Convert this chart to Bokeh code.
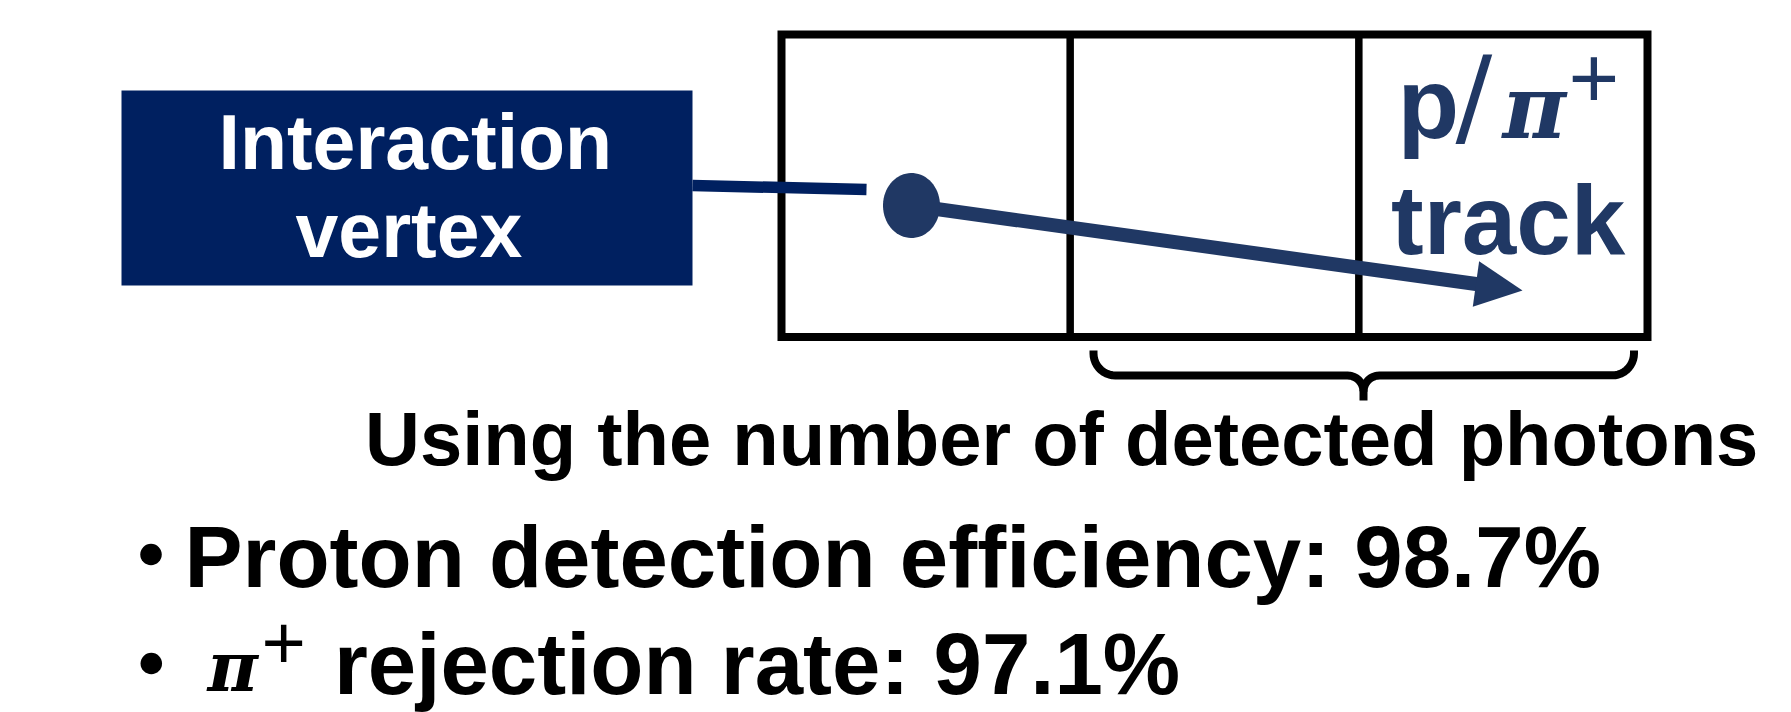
from bokeh.plotting import figure
from bokeh.models import Range1d
from bokeh.core.properties import value
from bokeh.embed import file_html
from bokeh.resources import INLINE
import numpy as np

# ---------------- content ----------------
vertex_label = ["Interaction", "vertex"]
track_particle = ["p", "/", "\u03c0", "+"]
track_word = "track"
n_cells = 3
brace_caption = "Using the number of detected photons"
metric_names = ["Proton detection efficiency", "rejection rate"]
metric_values = [98.7, 97.1]

# ---------------- styles ----------------
NAVY = "#002060"
TRACK = "#203864"
SANS = "Liberation Sans"
MATH = "DejaVu Serif"
MID = {SANS: 0.3465, MATH: 0.346, "DejaVu Sans": 0.346}

W, H = 1791, 712
p = figure(width=W, height=H, x_range=Range1d(0, W), y_range=Range1d(H, 0),
           output_backend="svg", toolbar_location=None,
           x_axis_type=None, y_axis_type=None, min_border=0)
p.outline_line_color = None
p.background_fill_color = "white"
p.border_fill_color = "white"


def txt(x, baseline, s, size, color, font=SANS, style="bold"):
    y = baseline - MID[font] * size
    p.text(x=[x], y=[y], text=[s], text_font=value(font),
           text_font_size=value(f"{size}px"), text_font_style=style,
           text_color=color, text_baseline="middle", text_align="left")


# label box
p.quad(left=[121], right=[692], top=[90], bottom=[285], fill_color=NAVY, line_color=None)
txt(218, 168, vertex_label[0], 77, "white")
txt(295, 256, vertex_label[1], 77, "white")

# track label
txt(1397, 137, track_particle[0], 101, TRACK)
txt(1455, 134, track_particle[1], 109, TRACK, font="DejaVu Sans", style="normal")
txt(1502, 137, track_particle[2], 87, TRACK, font=MATH, style="bold italic")
txt(1568, 108, track_particle[3], 87, TRACK, style="normal")
txt(1390.5, 253, track_word, 98, TRACK)

# caption and results
txt(364.5, 464, brace_caption, 76, "black")
txt(184, 586, f"{metric_names[0]}: {metric_values[0]}%", 87, "black")
txt(207, 690, "\u03c0", 69, "black", font=MATH, style="bold italic")
txt(261, 668, "+", 76, "black", style="normal")
txt(333.5, 693, f"{metric_names[1]}: {metric_values[1]}%", 87, "black")

# detector frame
fx0, fx1, fy0, fy1 = 781, 1647, 34, 336.5
p.quad(left=[fx0], right=[fx1], top=[fy0], bottom=[fy1], fill_color=None,
       line_color="black", line_width=8, line_join="miter")
edges = [fx0 + k * (fx1 - fx0) / n_cells for k in range(1, n_cells)]
p.segment(x0=edges, y0=[fy0] * len(edges), x1=edges, y1=[fy1] * len(edges),
          line_color="black", line_width=7.5)

# brace under cells 2..3
L, R, M = 1093, 1633.5, 1363
yt, yb, ytip = 350, 375, 400
r1, r2 = 22, 16
ys_v = yb - r1
bx, by = [L, L], [yt, ys_v]
for a in np.linspace(np.pi, np.pi / 2, 12)[1:]:
    bx.append(float(L + r1 + r1 * np.cos(a))); by.append(float(ys_v + r1 * np.sin(a)))
for a in np.linspace(-np.pi / 2, 0, 12):
    bx.append(float(M - r2 + r2 * np.cos(a))); by.append(float(yb + r2 + r2 * np.sin(a)))
bx.append(M); by.append(ytip)
bx2, by2 = [M], [yb + r2]
for a in np.linspace(np.pi, 3 * np.pi / 2, 12):
    bx2.append(float(M + r2 + r2 * np.cos(a))); by2.append(float(yb + r2 + r2 * np.sin(a)))
for a in np.linspace(np.pi / 2, 0, 12)[1:]:
    bx2.append(float(R - r1 + r1 * np.cos(a))); by2.append(float(ys_v + r1 * np.sin(a)))
bx2.append(R); by2.append(yt)
p.multi_line(xs=[bx, bx2], ys=[by, by2], line_color="black", line_width=8, line_join="round")

# bullets
p.scatter(x=[150.5, 150.8], y=[554, 663], size=21.5, fill_color="black", line_color=None)

# connector from label box to vertex
p.segment(x0=[692], y0=[185], x1=[866], y1=[189], line_color=NAVY, line_width=11.5)

# track arrow
sx, sy = 911, 205
tx, ty = 1522, 290
d = np.array([tx - sx, ty - sy], dtype=float)
d /= np.hypot(*d)
nrm = np.array([-d[1], d[0]])
hl, hw = 47, 46
base = np.array([tx, ty]) - hl * d
p.segment(x0=[sx], y0=[sy], x1=[float(base[0] + 2 * d[0])], y1=[float(base[1] + 2 * d[1])],
          line_color=TRACK, line_width=14)
c1 = base + hw / 2 * nrm
c2 = base - hw / 2 * nrm
th = np.linspace(0, 2 * np.pi, 72)
p.patches(xs=[[float(v) for v in sx + 28.5 * np.cos(th)],
              [tx, float(c1[0]), float(c2[0])]],
          ys=[[float(v) for v in sy + 32.5 * np.sin(th)],
              [ty, float(c1[1]), float(c2[1])]],
          fill_color=TRACK, line_color=None)

open("out.html", "w").write(file_html(p, INLINE))
